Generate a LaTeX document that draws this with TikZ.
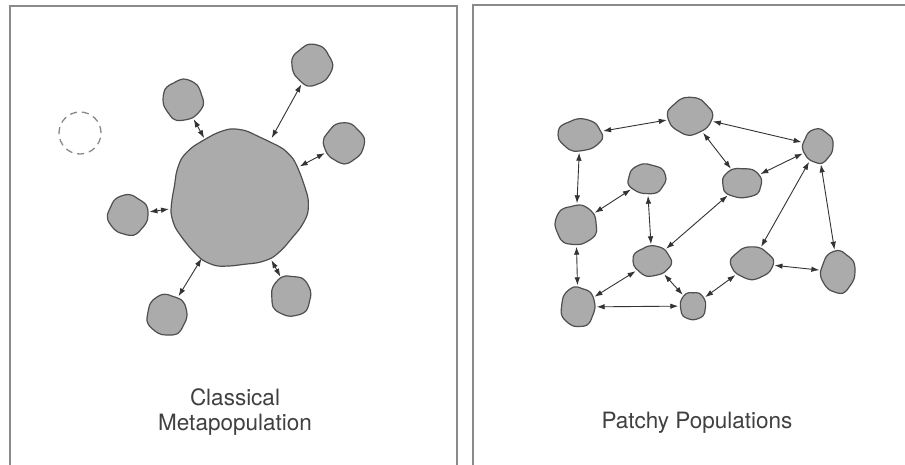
\documentclass[tikz,border=0pt]{standalone}
\usepackage{fontspec}
\setmainfont{TeX Gyre Heros}
\usetikzlibrary{arrows.meta,shapes.geometric}
\definecolor{patchfill}{HTML}{ABABAB}
\definecolor{patchline}{HTML}{4F4F4F}
\definecolor{framecol}{HTML}{8A8A8A}
\definecolor{labeltext}{HTML}{404040}
\tikzset{
  anchorpatch/.style={ellipse, inner sep=0pt, draw=none},
  patchshape/.style={fill=patchfill, draw=patchline, line width=1.2pt},
  link/.style={draw=black!80, line width=0.9pt,
    {Latex[length=8pt,width=5.5pt]}-{Latex[length=8pt,width=5.5pt]},
    shorten <=1.5pt, shorten >=1.5pt},
  panelframe/.style={draw=framecol, line width=1.6pt},
  labeltxt/.style={text=labeltext, font=\fontsize{22.5}{25.5}\selectfont, align=center},
}
% name, x, y, rx, ry, phase
\newcommand\patchblob[6]{%
  \draw[patchshape] plot[smooth cycle, domain=0:345, samples=24, variable=\t]
   ({#2+#4*(1+0.03*sin(4*\t+#6)+0.02*sin(7*\t+2*#6))*cos(\t)},
    {#3+#5*(1+0.03*sin(4*\t+#6)+0.02*sin(7*\t+2*#6))*sin(\t)});
  \node[anchorpatch, minimum width={2*#4pt}, minimum height={2*#5pt}] (#1) at (#2,#3) {};
}
\begin{document}
\begin{tikzpicture}[x=1pt,y=-1pt]
\useasboundingbox (0,0) rectangle (905,464);
\clip (0,0) rectangle (905,464);
\fill[white] (0,0) rectangle (905,464);
% panels
\draw[panelframe] (10,6) rectangle (457,480);
\draw[panelframe] (473,5) rectangle (915,480);

% ---------- left panel ----------
\draw[patchshape] plot[smooth cycle, domain=0:348, samples=30, variable=\t]
  ({238+68*(1+0.022*sin(7*\t+20)+0.025*sin(3*\t+70))*cos(\t)},
   {199+68*(1+0.022*sin(7*\t+20)+0.025*sin(3*\t+70))*sin(\t)});
\node[anchorpatch, minimum width=136pt, minimum height=136pt] (big) at (238,199) {};

\node[circle, draw=framecol, line width=1.3pt, dash pattern=on 7pt off 5pt,
      minimum size=42pt, inner sep=0pt] (empty) at (80,133) {};

\patchblob{s1}{183}{100}{20}{20.5}{10}
\patchblob{s2}{312}{65}{20}{20.5}{50}
\patchblob{s3}{344}{143}{20}{20}{100}
\patchblob{s4}{128}{215}{20}{20}{150}
\patchblob{s5}{167}{315}{20}{20.5}{200}
\patchblob{s6}{291}{296}{20}{20.5}{250}

\draw[link] (big) -- (s1);
\draw[link] (big) -- (s2);
\draw[link] (big) -- (s3);
\draw[link] (big) -- (s4);
\draw[link] (big) -- (s5);
\draw[link] (big) -- (s6);

\node[labeltxt] (lbl1) at (235,412) {Classical\\Metapopulation};

% ---------- right panel ----------
\patchblob{pa}{580}{135}{22}{16}{20}
\patchblob{pb}{690}{116}{22}{18.5}{80}
\patchblob{pc}{818}{146}{15}{17}{140}
\patchblob{pd}{647}{179}{19}{15}{200}
\patchblob{pe}{742}{183}{20}{15}{260}
\patchblob{pf}{576}{225}{21}{20}{320}
\patchblob{pg}{652}{261}{19}{15}{30}
\patchblob{ph}{752}{263}{21}{16}{90}
\patchblob{pi}{838}{272}{17}{21}{150}
\patchblob{pj}{578}{307}{17}{20}{210}
\patchblob{pk}{693}{306}{13}{14}{270}

\draw[link] (pa) -- (pb);
\draw[link] (pb) -- (pc);
\draw[link] (pb) -- (pe);
\draw[link] (pa) -- (pf);
\draw[link] (pf) -- (pd);
\draw[link] (pd) -- (pg);
\draw[link] (pg) -- (pe);
\draw[link] (pe) -- (pc);
\draw[link] (pc) -- (ph);
\draw[link] (pc) -- (pi);
\draw[link] (ph) -- (pi);
\draw[link] (pf) -- (pj);
\draw[link] (pg) -- (pj);
\draw[link] (pg) -- (pk);
\draw[link] (pj) -- (pk);
\draw[link] (pk) -- (ph);

\node[labeltxt] (lbl2) at (697,423) {Patchy Populations};
\end{tikzpicture}
\end{document}
